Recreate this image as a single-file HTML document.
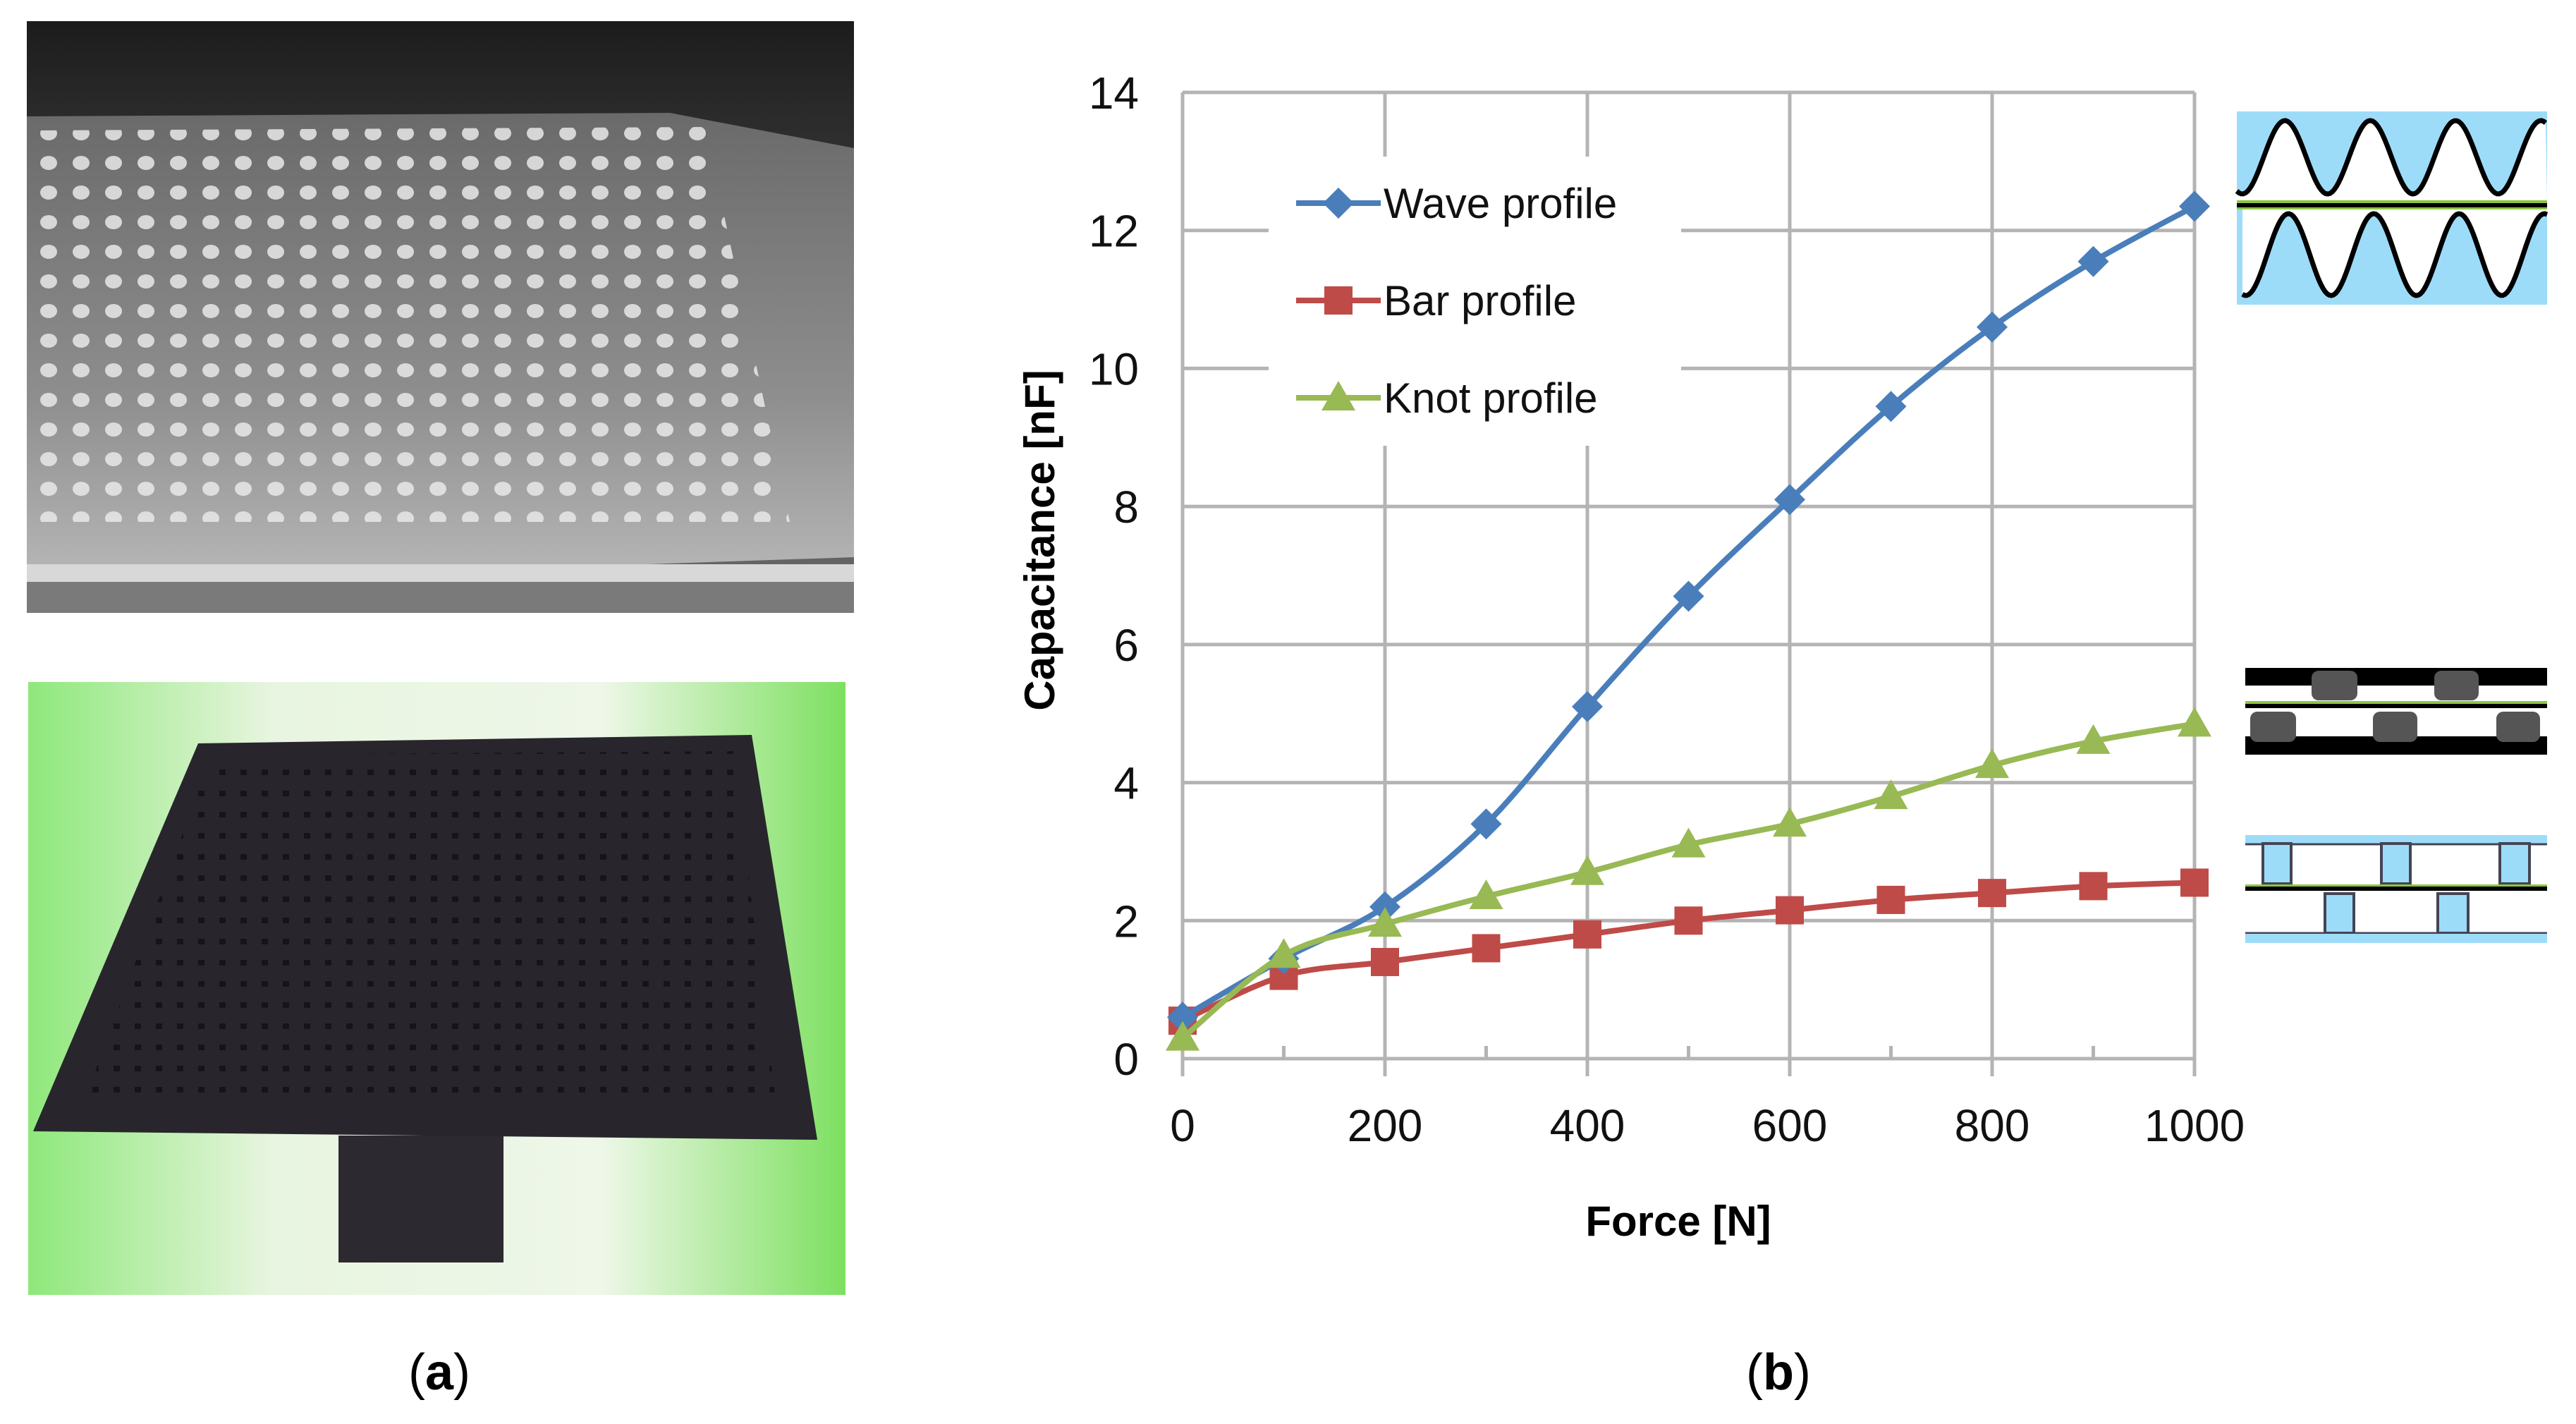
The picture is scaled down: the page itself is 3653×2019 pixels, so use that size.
<!DOCTYPE html>
<html><head><meta charset="utf-8"><style>
html,body{margin:0;padding:0;background:#fff;}
svg{display:block;}
text{font-family:"Liberation Sans","DejaVu Sans",sans-serif;}
</style></head><body>
<svg id="fig" width="3653" height="2019" viewBox="0 0 3653 2019" xmlns="http://www.w3.org/2000/svg">
<defs>
<linearGradient id="topbg" x1="0" y1="0" x2="0" y2="1"><stop offset="0" stop-color="#1c1c1c"/><stop offset="0.15" stop-color="#2a2a2a"/><stop offset="1" stop-color="#6a6a6a"/></linearGradient>
<linearGradient id="plate" x1="0" y1="0" x2="0" y2="1"><stop offset="0" stop-color="#6a6a6a"/><stop offset="0.6" stop-color="#8e8e8e"/><stop offset="1" stop-color="#b8b8b8"/></linearGradient>
<pattern id="pins" width="46" height="42" patternUnits="userSpaceOnUse"><ellipse cx="23" cy="21" rx="12" ry="10" fill="#e8e8e8"/></pattern>
<pattern id="holes" width="30" height="30" patternUnits="userSpaceOnUse"><rect x="11" y="11" width="9" height="8" fill="#111"/></pattern>
<linearGradient id="greenbg" x1="0" y1="0" x2="1" y2="0"><stop offset="0" stop-color="#8ee87a"/><stop offset="0.3" stop-color="#e8f5e0"/><stop offset="0.7" stop-color="#eef7e8"/><stop offset="1" stop-color="#7de060"/></linearGradient>
</defs>

<g>
<rect x="38" y="30" width="1173" height="839" fill="url(#topbg)"/>
<polygon points="38,165 950,160 1211,210 1211,790 38,830" fill="url(#plate)"/>
<polygon points="40,185 1000,180 1120,740 40,740" fill="url(#pins)" opacity="0.85"/>
<rect x="38" y="800" width="1173" height="25" fill="#d8d8d8"/>
<rect x="38" y="825" width="1173" height="44" fill="#7a7a7a"/>
</g>

<g>
<rect x="40" y="967" width="1159" height="869" fill="url(#greenbg)"/>
<polygon points="281,1054 1066,1042 1159,1616 47,1604" fill="#28262c"/>
<polygon points="300,1070 1040,1065 1100,1560 120,1560" fill="url(#holes)" opacity="0.8"/>
<rect x="480" y="1610" width="234" height="180" fill="#2c2a30"/>
</g>
<text x="623" y="1970" font-family="Liberation Serif, serif" font-size="72" text-anchor="middle">(<tspan font-weight="bold">a</tspan>)</text>
<text x="2522" y="1970" font-family="Liberation Serif, serif" font-size="72" text-anchor="middle">(<tspan font-weight="bold">b</tspan>)</text>

<g id="chart"></g>

<g>
<rect x="3172" y="158" width="440" height="274" fill="#9ddcf8"/>
<path id="w1" fill="#fff" stroke="none"/>
<path id="w2" fill="#fff" stroke="none"/>
<path id="w1s" fill="none" stroke="#000" stroke-width="7"/>
<path id="w2s" fill="none" stroke="#000" stroke-width="7"/>
<rect x="3172" y="288" width="440" height="6" fill="#000"/>
<rect x="3172" y="284" width="440" height="4" fill="#8cc63f"/>
<rect x="3172" y="294" width="440" height="3" fill="#8cc63f"/>
</g>
<g>
<rect x="3184" y="947" width="428" height="25" fill="#000"/>
<rect x="3184" y="1044" width="428" height="26" fill="#000"/>
<rect x="3278" y="951" width="65" height="42" rx="10" fill="#555"/>
<rect x="3452" y="951" width="63" height="42" rx="10" fill="#555"/>
<rect x="3191" y="1009" width="65" height="43" rx="10" fill="#555"/>
<rect x="3365" y="1009" width="63" height="43" rx="10" fill="#555"/>
<rect x="3540" y="1009" width="62" height="43" rx="10" fill="#555"/>
<rect x="3184" y="998" width="428" height="6" fill="#000"/>
<rect x="3184" y="994" width="428" height="4" fill="#8cc63f"/>
</g>
<g>
<rect x="3184" y="1184" width="428" height="12" fill="#9ddcf8"/>
<path d="M3184 1197 H3612" stroke="#445" stroke-width="3"/>
<rect x="3209" y="1196" width="40" height="57" fill="#9ddcf8" stroke="#445" stroke-width="4"/>
<rect x="3377" y="1196" width="41" height="57" fill="#9ddcf8" stroke="#445" stroke-width="4"/>
<rect x="3545" y="1196" width="42" height="57" fill="#9ddcf8" stroke="#445" stroke-width="4"/>
<rect x="3184" y="1257" width="428" height="6" fill="#000"/>
<rect x="3184" y="1254" width="428" height="3" fill="#8cc63f"/>
<rect x="3297" y="1267" width="41" height="56" fill="#9ddcf8" stroke="#445" stroke-width="4"/>
<rect x="3457" y="1267" width="43" height="56" fill="#9ddcf8" stroke="#445" stroke-width="4"/>
<path d="M3184 1323 H3612" stroke="#445" stroke-width="3"/>
<rect x="3184" y="1324" width="428" height="13" fill="#9ddcf8"/>
</g>
</svg>
<script>
const forces=[0,100,200,300,400,500,600,700,800,900,1000];
const wave=[0.6,1.45,2.2,3.4,5.1,6.7,8.1,9.45,10.6,11.55,12.35];
const bar=[0.55,1.2,1.4,1.6,1.8,2.0,2.15,2.3,2.4,2.5,2.55];
const knot=[0.3,1.5,1.95,2.35,2.7,3.1,3.4,3.8,4.25,4.6,4.85];
const yTicks=[0,2,4,6,8,10,12,14];
const xTicks=[0,200,400,600,800,1000];
const seriesNames=["Wave profile","Bar profile","Knot profile"];

const NS="http://www.w3.org/2000/svg";
const X0=1677,X1=3112,Y0=1501,Y1=131;
function sx(v){return X0+(v-0)/(1000-0)*(X1-X0);}
function sy(v){return Y0-(v-0)/(14-0)*(Y0-Y1);}
const g=document.getElementById('chart');
function mk(tag,at,parent){const e=document.createElementNS(NS,tag);for(const k in at)e.setAttribute(k,at[k]);(parent||g).appendChild(e);return e;}

yTicks.forEach(v=>{
  const l=mk('line',{x1:X0,x2:X1,y1:sy(v),y2:sy(v),stroke:'#b4b4b4','stroke-width':5});
  
  
  const t=mk('text',{x:X0-62,y:sy(v)+23,'font-size':64,'text-anchor':'end',fill:'#111'});
  t.textContent=v;
  
  
});
xTicks.forEach(v=>{
  const l=mk('line',{x1:sx(v),x2:sx(v),y1:Y1,y2:Y0+25,stroke:'#b4b4b4','stroke-width':5});
  
  
  const t=mk('text',{x:sx(v),y:Y0+117,'font-size':64,'text-anchor':'middle',fill:'#111'});
  t.textContent=v;
  
  
});
forces.forEach(v=>{
  const l=mk('line',{x1:sx(v),x2:sx(v),y1:Y0,y2:Y0-18,stroke:'#b4b4b4','stroke-width':5});
  
  
});
{
 const t=mk('text',{x:0,y:0,'font-size':60,'font-weight':'bold','text-anchor':'middle',transform:'translate(1495,766) rotate(-90)'});
 t.textContent='Capacitance  [nF]';
 
 
 const t2=mk('text',{x:2380,y:1752,'font-size':60,'font-weight':'bold','text-anchor':'middle'});
 t2.textContent='Force [N]';
 
 
}
const lb=mk('rect',{x:1799,y:222,width:585,height:410,fill:'#fff'});



function smooth(pts){
  let d='M'+pts[0][0]+' '+pts[0][1];
  for(let i=0;i<pts.length-1;i++){
    const p0=pts[i-1]||pts[i],p1=pts[i],p2=pts[i+1],p3=pts[i+2]||p2;
    const c1=[p1[0]+(p2[0]-p0[0])/6,p1[1]+(p2[1]-p0[1])/6];
    const c2=[p2[0]-(p3[0]-p1[0])/6,p2[1]-(p3[1]-p1[1])/6];
    d+=` C${c1[0]} ${c1[1]} ${c2[0]} ${c2[1]} ${p2[0]} ${p2[1]}`;
  }
  return d;
}
function marker(type,x,y,color,parent){
  let e;
  if(type==='d') e=mk('polygon',{points:`${x},${y-22} ${x+22},${y} ${x},${y+22} ${x-22},${y}`,fill:color},parent);
  else if(type==='s') e=mk('rect',{x:x-20,y:y-20,width:40,height:40,fill:color},parent);
  else e=mk('polygon',{points:`${x},${y-24} ${x+24},${y+18} ${x-24},${y+18}`,fill:color},parent);
  return e;
}
const defs=[[wave,'#4a7ebb','d','wave'],[bar,'#be4b48','s','bar'],[knot,'#98b954','t','knot']];
const order=[1,0,2];
order.forEach(i=>{
  const [vals,col,mt,nm]=defs[i];
  const sg=mk('g',{});
  
  
  const pts=forces.map((f,j)=>[sx(f),sy(vals[j])]);
  const p=mk('path',{d:smooth(pts),fill:'none',stroke:col,'stroke-width':8,'stroke-linejoin':'round'},sg);
  
  
  pts.forEach(pt=>{
    const m=marker(mt,pt[0],pt[1],col,sg);
    
    
  });
});
defs.forEach((d,i)=>{
  const y=288+i*138;
  const lg=mk('g',{});
  
  
  mk('line',{x1:1838,x2:1958,y1:y,y2:y,stroke:d[1],'stroke-width':8},lg);
  marker(d[2],1898,y,d[1],lg);
  const t=mk('text',{x:1962,y:y+21,'font-size':60,fill:'#111'},lg);
  t.textContent=seriesNames[i];
});

function wavePath(x0,x1,yc,amp,phase){
  let d='';
  for(let x=x0;x<=x1;x+=3){
    const y=yc-amp*Math.sin((x-phase)/121*2*Math.PI);
    d+=(d?' L':'M')+x+' '+y.toFixed(1);
  }
  return d;
}
const w1=wavePath(3172,3612,223,52,3210);
document.getElementById('w1s').setAttribute('d',w1);
document.getElementById('w1').setAttribute('d',w1+' L3612 288 L3172 288 Z');
const w2=wavePath(3180,3612,361,58,3215);
document.getElementById('w2s').setAttribute('d',w2);
document.getElementById('w2').setAttribute('d',w2+' L3612 294 L3180 294 Z');
</script>
</body></html>
